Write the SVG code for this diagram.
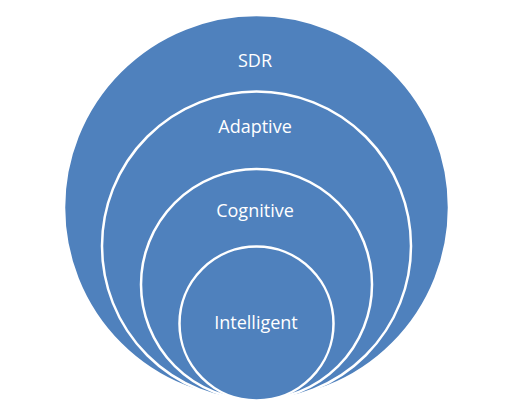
<svg xmlns="http://www.w3.org/2000/svg" width="505" height="411" viewBox="0 0 505 411">
<style>
.c{fill:#4F81BD;stroke:#FFFFFF;stroke-width:2.5}
.t{font-family:"Open Sans","Liberation Sans",sans-serif;font-size:18px;fill:#FFFFFF;text-anchor:middle}
</style>
<rect width="505" height="411" fill="#FFFFFF"/>
<g id="sdr">
<circle class="c" cx="256.5" cy="207.5" r="192.5"/>
<text class="t" x="255" y="66.5">SDR</text>
</g>
<g id="adaptive">
<circle class="c" cx="256.5" cy="246" r="154.5"/>
<text class="t" x="255" y="132.5">Adaptive</text>
</g>
<g id="cognitive">
<circle class="c" cx="256.5" cy="284.5" r="115.5"/>
<text class="t" x="255" y="216.5">Cognitive</text>
</g>
<g id="intelligent">
<circle class="c" cx="256.5" cy="323.5" r="77"/>
<text class="t" x="256" y="328.5">Intelligent</text>
</g>
<g id="connectors"/>
</svg>
